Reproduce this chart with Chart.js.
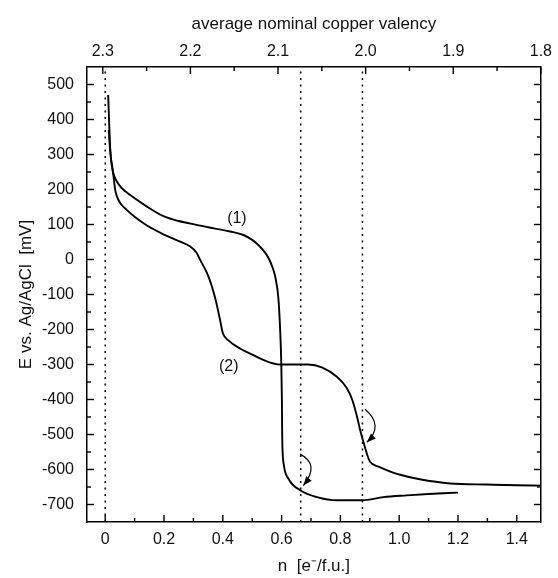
<!DOCTYPE html>
<html>
<head>
<meta charset="utf-8">
<script src="https://cdn.jsdelivr.net/npm/chart.js@4.4.1/dist/chart.umd.min.js"></script>
<style>
  html, body { margin: 0; padding: 0; background: #fff; }
  #wrap { width: 558px; height: 578px; }
</style>
</head>
<body>
<div id="wrap"><canvas id="chart" width="558" height="578"></canvas></div>
<script>
// Datos
const n1 = [0.010, 0.013, 0.016, 0.020, 0.025, 0.030, 0.040, 0.055, 0.085, 0.142, 0.198, 0.25, 0.31, 0.37, 0.425, 0.47, 0.50, 0.52, 0.54, 0.555, 0.568, 0.578, 0.589, 0.595, 0.599, 0.601, 0.602, 0.603, 0.607, 0.624, 0.665, 0.72, 0.79, 0.873, 0.947, 1.026, 1.10, 1.20];
const e1 = [470, 400, 330, 285, 255, 240, 222, 205, 184, 151, 124, 110, 99, 89, 80, 70, 56, 42, 24, 5, -20, -48, -110, -200, -300, -400, -500, -541, -584, -627, -660, -679, -688, -688, -679, -674, -670, -666];

const n2 = [0.012, 0.016, 0.020, 0.025, 0.030, 0.034, 0.045, 0.057, 0.074, 0.10, 0.142, 0.198, 0.255, 0.289, 0.31, 0.323, 0.351, 0.374, 0.39, 0.40, 0.42, 0.46, 0.50, 0.544, 0.595, 0.69, 0.737, 0.788, 0.82, 0.84, 0.856, 0.868, 0.879, 0.892, 0.901, 0.93, 0.97, 1.003, 1.07, 1.173, 1.30, 1.40, 1.48];
const e2 = [370, 320, 285, 260, 225, 198, 170, 155, 141, 122, 97, 72, 51, 37, 20, -1, -48, -110, -170, -210, -232, -255, -272, -289, -300, -300, -308, -335, -365, -400, -447, -490, -523, -560, -578, -592, -606, -615, -628, -640, -643, -645, -646];

// Líneas punteadas verticales
const guideN = [0, 0.665, 0.875];

// Ejes
const nTicks = [0, 0.2, 0.4, 0.6, 0.8, 1.0, 1.2, 1.4];
const eTicks = [-700, -600, -500, -400, -300, -200, -100, 0, 100, 200, 300, 400, 500];
const valTicks = [2.3, 2.2, 2.1, 2.0, 1.9, 1.8];
const N_MIN = -0.062, N_MAX = 1.482;
const E_MIN = -750, E_MAX = 550;
const VAL_MIN = 1.8, VAL_MAX = 2.318;

// Anotaciones: etiquetas y flechas (inicio, curva, punta)
const curveLabels = [{ text: '(1)', n: 0.448, e: 118 }, { text: '(2)', n: 0.42, e: -305 }];
const arrow1 = [[0.663, -556], [0.70, -593], [0.674, -646]];
const arrow2 = [[0.884, -428], [0.918, -475], [0.89, -522]];

const FONT = { family: '"Liberation Sans", Arial, sans-serif', size: 16 };
const TITLE_FONT = { family: FONT.family, size: 17 };
const INK = '#111';

const toPoints = (xs, ys) => xs.map((x, i) => ({ x, y: ys[i] }));

const guideSets = guideN.map(v => ({
  data: [{ x: v, y: E_MIN }, { x: v, y: E_MAX }],
  showLine: true,
  borderColor: '#000',
  borderWidth: 1.5,
  borderDash: [2, 4.5],
  pointRadius: 0
}));

const curve = (xs, ys) => ({
  data: toPoints(xs, ys),
  showLine: true,
  borderColor: '#000',
  borderWidth: 1.9,
  cubicInterpolationMode: 'monotone',
  pointRadius: 0
});

// Marcas de eje hacia dentro + etiquetas + flechas
const extras = {
  id: 'extras',
  afterDatasetsDraw(chart) {
    const { ctx, chartArea: a, scales } = chart;
    const sx = scales.x, sy = scales.y, sv = scales.x2;
    ctx.save();
    ctx.strokeStyle = '#000';
    ctx.lineWidth = 1.4;
    const seg = (x1, y1, x2, y2) => { ctx.beginPath(); ctx.moveTo(x1, y1); ctx.lineTo(x2, y2); ctx.stroke(); };

    const withMinor = arr => {
      const out = [];
      for (let i = 0; i < arr.length; i++) {
        out.push([arr[i], 7]);
        if (i < arr.length - 1) out.push([(arr[i] + arr[i + 1]) / 2, 4]);
      }
      return out;
    };

    withMinor(eTicks).forEach(([v, len]) => {
      const y = sy.getPixelForValue(v);
      seg(a.left, y, a.left + len, y);
      seg(a.right, y, a.right - len, y);
    });
    withMinor(nTicks).forEach(([v, len]) => {
      const x = sx.getPixelForValue(v);
      seg(x, a.bottom, x, a.bottom - len);
    });
    withMinor(valTicks).forEach(([v, len]) => {
      const x = sv.getPixelForValue(v);
      seg(x, a.top, x, a.top + len);
    });

    // Etiquetas de las curvas
    ctx.fillStyle = INK;
    ctx.font = `${FONT.size}px ${FONT.family}`;
    ctx.textAlign = 'center';
    ctx.textBaseline = 'middle';
    curveLabels.forEach(l => ctx.fillText(l.text, sx.getPixelForValue(l.n), sy.getPixelForValue(l.e)));

    // Flechas curvas
    const drawArrow = pts => {
      const p = pts.map(([n, e]) => [sx.getPixelForValue(n), sy.getPixelForValue(e)]);
      const cx = 2 * p[1][0] - (p[0][0] + p[2][0]) / 2;
      const cy = 2 * p[1][1] - (p[0][1] + p[2][1]) / 2;
      ctx.lineWidth = 1.2;
      ctx.beginPath();
      ctx.moveTo(p[0][0], p[0][1]);
      ctx.quadraticCurveTo(cx, cy, p[2][0], p[2][1]);
      ctx.stroke();
      const ang = Math.atan2(p[2][1] - cy, p[2][0] - cx);
      const L = 9, W = 3.5;
      const bx = p[2][0] - L * Math.cos(ang), by = p[2][1] - L * Math.sin(ang);
      ctx.fillStyle = '#000';
      ctx.beginPath();
      ctx.moveTo(p[2][0], p[2][1]);
      ctx.lineTo(bx + W * Math.sin(ang), by - W * Math.cos(ang));
      ctx.lineTo(bx - W * Math.sin(ang), by + W * Math.cos(ang));
      ctx.closePath();
      ctx.fill();
    };
    drawArrow(arrow1);
    drawArrow(arrow2);
    ctx.restore();
  }
};

const border = { display: true, color: '#000', width: 1.5 };
const noGrid = { display: false, drawTicks: false };

new Chart(document.getElementById('chart').getContext('2d'), {
  type: 'scatter',
  data: {
    datasets: [...guideSets, curve(n1, e1), curve(n2, e2)]
  },
  options: {
    responsive: false,
    animation: false,
    devicePixelRatio: 1,
    layout: { padding: 0 },
    plugins: {
      legend: { display: false },
      tooltip: { enabled: false }
    },
    scales: {
      x: {
        type: 'linear',
        position: 'bottom',
        min: N_MIN,
        max: N_MAX,
        afterFit: s => { s.height = 56; },
        afterBuildTicks: s => { s.ticks = nTicks.map(v => ({ value: v })); },
        ticks: {
          font: FONT, color: INK, padding: 8, maxRotation: 0, autoSkip: false,
          callback: v => (v === 0 ? '0' : Number(v).toFixed(1))
        },
        grid: noGrid,
        border,
        title: { display: true, text: 'n  [e\u207B/f.u.]', font: TITLE_FONT, color: INK, padding: { top: 0, bottom: 1 } }
      },
      x2: {
        type: 'linear',
        position: 'top',
        reverse: true,
        min: VAL_MIN,
        max: VAL_MAX,
        afterFit: s => { s.height = 67; },
        afterBuildTicks: s => { s.ticks = valTicks.map(v => ({ value: v })); },
        ticks: {
          font: FONT, color: INK, padding: 6, maxRotation: 0, autoSkip: false,
          callback: v => Number(v).toFixed(1)
        },
        grid: noGrid,
        border,
        title: { display: true, text: 'average nominal copper valency', font: TITLE_FONT, color: INK, padding: { top: 14, bottom: 0 } }
      },
      y: {
        type: 'linear',
        position: 'left',
        min: E_MIN,
        max: E_MAX,
        afterFit: s => { s.width = 87; },
        afterBuildTicks: s => { s.ticks = eTicks.map(v => ({ value: v })); },
        ticks: { font: FONT, color: INK, padding: 13, autoSkip: false },
        grid: noGrid,
        border,
        title: { display: true, text: 'E vs. Ag/AgCl  [mV]', font: TITLE_FONT, color: INK, padding: { top: 16, bottom: 0 } }
      },
      y2: {
        type: 'linear',
        position: 'right',
        min: E_MIN,
        max: E_MAX,
        afterFit: s => { s.width = 17; },
        ticks: { display: false },
        grid: noGrid,
        border
      }
    }
  },
  plugins: [extras]
});
</script>
</body>
</html>
